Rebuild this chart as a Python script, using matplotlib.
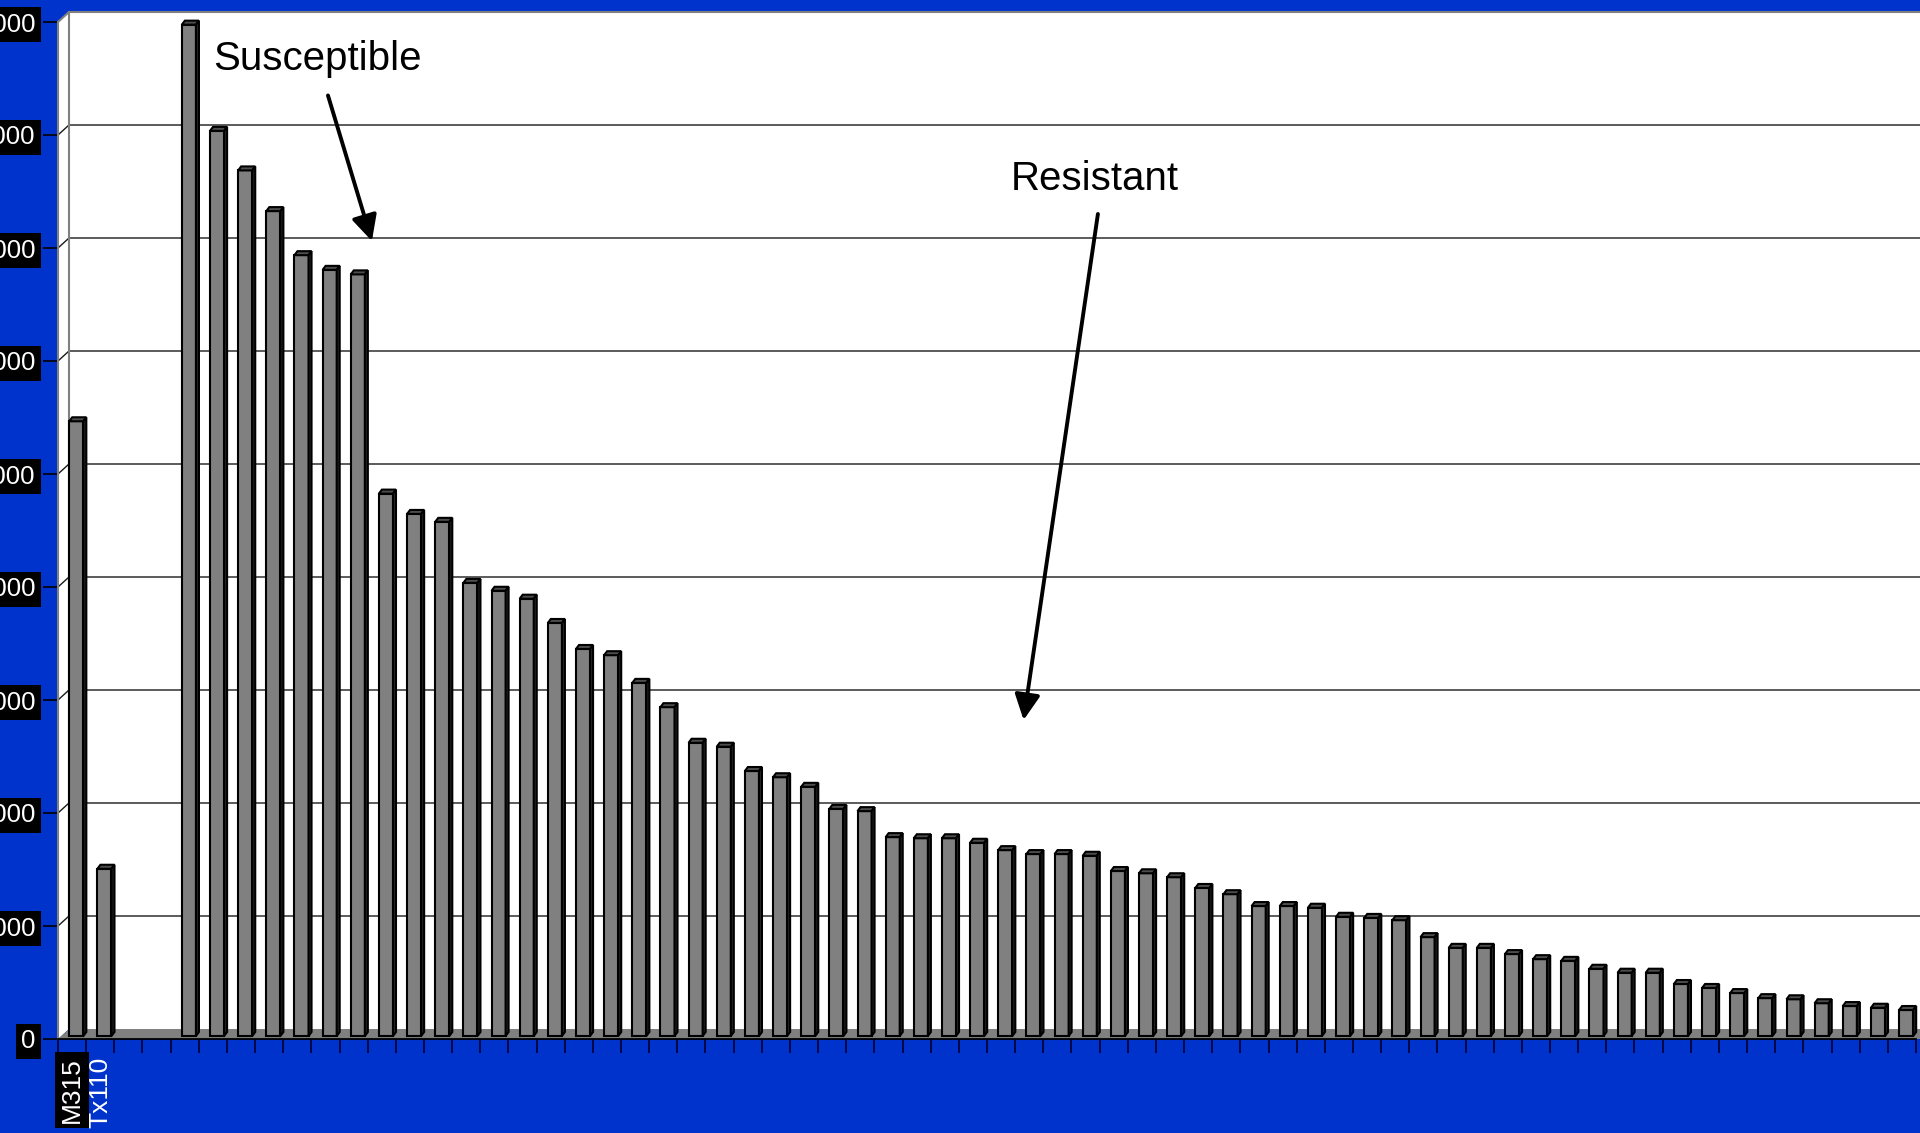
import numpy as np
import matplotlib
matplotlib.use("Agg")
import matplotlib.pyplot as plt
from matplotlib.patches import Polygon

plt.rcParams["font.family"] = ["Liberation Sans", "DejaVu Sans"]

# parental lines, then two empty slots, then the progeny sorted by score
parents = ["M315", "Tx110"]
parent_vals = [5440, 1480]
n_gap = 2
progeny_vals = [8950, 8010, 7660, 7300, 6910, 6780, 6740, 4800, 4620, 4550,
                4010, 3940, 3870, 3655, 3425, 3370, 3125, 2910, 2595, 2560,
                2345, 2290, 2205, 2010, 1990, 1760, 1750, 1750, 1710, 1645,
                1610, 1610, 1595, 1460, 1440, 1405, 1310, 1255, 1150, 1150,
                1135, 1055, 1045, 1025, 875, 780, 780, 725, 680, 665,
                595, 560, 560, 460, 425, 380, 335, 325, 290, 265, 250, 230]
y_ticks = list(range(0, 9001, 1000))

vals = np.array(parent_vals + [np.nan] * n_gap + progeny_vals, dtype=float)
labels = parents + [""] * (n_gap + len(progeny_vals))
n = len(vals)

BLUE = "#0033CC"
W, H = 1920, 1133
fig = plt.figure(figsize=(W / 100, H / 100), dpi=100, facecolor=BLUE)
ax = fig.add_axes([58 / W, 94 / H, 1858 / W, 1017 / H])
ax.set_xlim(0, n)
ax.set_ylim(0, y_ticks[-1])
ax.patch.set_visible(False)

# pixel sizes in data units, for the fake 3-d depth
px_x = n / 1858
px_y = y_ticks[-1] / 1017
wdx, wdy = 11 * px_x, 10 * px_y      # floor / wall depth
lift = 3 * px_y                      # bars sit a little behind the front edge
cdx, cdy = 3 * px_x, 4 * px_y        # bar depth
top = y_ticks[-1]
far = n + 2

# walls and floor
ax.add_patch(Polygon([(wdx, wdy), (wdx, top + wdy), (far, top + wdy), (far, wdy)],
                     closed=True, fc="white", ec="none", zorder=0, clip_on=False))
ax.add_patch(Polygon([(0, 0), (0, top), (wdx, top + wdy), (wdx, wdy)],
                     closed=True, fc="white", ec="none", zorder=0, clip_on=False))
for v in y_ticks[1:-1]:
    ax.plot([0, wdx, far], [v, v + wdy, v + wdy], color="#1a1a1a", lw=1.0,
            zorder=1, clip_on=False)
ax.plot([0, wdx, far], [top, top + wdy, top + wdy], color="#808080", lw=1.5,
        zorder=1, clip_on=False)
ax.plot([wdx, wdx], [wdy, top + wdy], color="#808080", lw=1.5, zorder=1, clip_on=False)
ax.add_patch(Polygon([(0, 0), (wdx, wdy), (far, wdy), (far, 0)],
                     closed=True, fc="#808080", ec="none", zorder=2, clip_on=False))

# columns
mask = ~np.isnan(vals)
xs = np.arange(n) + 0.65
bw = 0.5
ax.bar(xs[mask], vals[mask], width=bw, bottom=lift, color="#808080",
       edgecolor="black", linewidth=1.5, zorder=3, clip_on=False)
for x, v in zip(xs[mask], vals[mask]):
    x0, x1 = x - bw / 2, x + bw / 2
    yb, yt = lift, lift + v
    ax.add_patch(Polygon([(x0, yt), (x1, yt), (x1 + cdx, yt + cdy), (x0 + cdx, yt + cdy)],
                         closed=True, fc="#4d4d4d", ec="black", lw=1.5, zorder=3,
                         clip_on=False))
    ax.add_patch(Polygon([(x1, yb), (x1 + cdx, yb + cdy), (x1 + cdx, yt + cdy), (x1, yt)],
                         closed=True, fc="#262626", ec="black", lw=1.5, zorder=3,
                         clip_on=False))

# axes
for s in ["top", "right"]:
    ax.spines[s].set_visible(False)
ax.spines["left"].set_color("#808080")
ax.spines["left"].set_linewidth(1.5)
ax.spines["bottom"].set_color("black")
ax.spines["bottom"].set_linewidth(1.3)
ax.spines["bottom"].set_zorder(4)

ax.set_yticks(y_ticks)
ax.set_yticklabels([str(v) for v in y_ticks])
ax.tick_params(axis="y", length=11, width=1.2, color="black", pad=5,
               labelcolor="white", labelsize=18.5)
for lbl in ax.get_yticklabels():
    lbl.set_bbox(dict(boxstyle="square,pad=0.2", fc="black", ec="none"))

ax.set_xticks(range(n + 1))
ax.set_xticklabels([])
ax.tick_params(axis="x", which="major", length=10, width=1.2, color="#000033")
ax.set_xticks(np.arange(n) + 0.5, minor=True)
ax.set_xticklabels(labels, minor=True, rotation=90)
ax.tick_params(axis="x", which="minor", length=0, pad=13, labelcolor="white",
               labelsize=19)
ax.get_xticklabels(minor=True)[0].set_bbox(
    dict(boxstyle="square,pad=0.2", fc="black", ec="none"))

# annotations
arrow = dict(arrowstyle="-|>,head_length=0.7,head_width=0.35", lw=2.8,
             color="black", mutation_scale=22, shrinkA=0, shrinkB=0)
ax.text(5.5, 8575, "Susceptible", fontsize=29, ha="left", va="baseline", zorder=5)
ax.annotate("", xy=(11.15, 7062), xytext=(9.59, 8350), arrowprops=arrow, zorder=5)
ax.text(33.86, 7513, "Resistant", fontsize=29, ha="left", va="baseline", zorder=5)
ax.annotate("", xy=(34.3, 2823), xytext=(36.94, 7301), arrowprops=arrow, zorder=5)

fig.savefig("out.png", dpi=100, facecolor=fig.get_facecolor())
